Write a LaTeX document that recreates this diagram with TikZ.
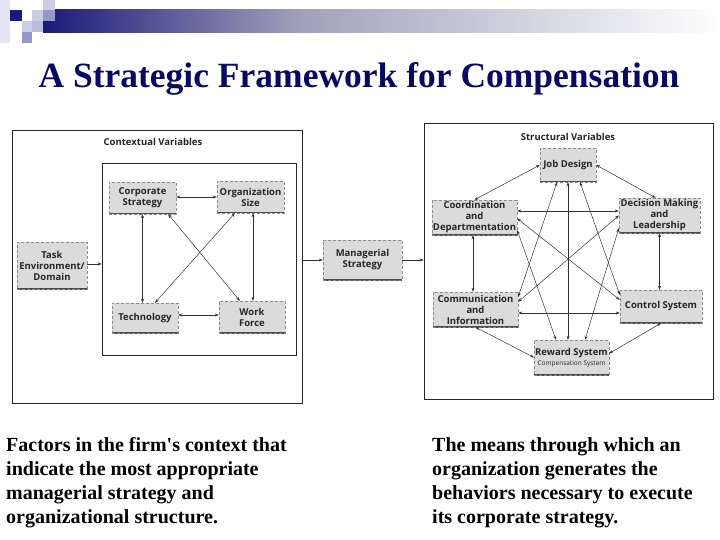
\documentclass[tikz,border=0pt]{standalone}
\usepackage{fontspec}
\setmainfont{Liberation Serif}
\newfontfamily\boxfont{Open Sans}
\usetikzlibrary{arrows.meta}
\definecolor{navy}{RGB}{26,26,122}
\definecolor{barmid}{RGB}{160,160,188}
\definecolor{titleblue}{RGB}{8,8,105}
\definecolor{sqpale}{RGB}{228,228,242}
\definecolor{sqlight}{RGB}{204,204,230}
\definecolor{sqmed}{RGB}{150,150,200}
\begin{document}
\begin{tikzpicture}[x=1pt,y=-1pt,
  box/.style={draw=black!45, densely dashed, fill=black!14, align=center, inner sep=1pt, text=black!85,
    font=\boxfont\bfseries\fontsize{9.5}{11}\selectfont,
    path picture={\draw[solid, line width=2.4pt,black!70] (path picture bounding box.south west) -- (path picture bounding box.south east);}},
  frame/.style={draw=black!85, line width=0.8pt},
  flabel/.style={font=\boxfont\bfseries\fontsize{9.5}{11}\selectfont, text=black!85},
  link/.style={{Stealth[length=4pt,width=3pt]}-{Stealth[length=4pt,width=3pt]}, line width=0.5pt, draw=black!80},
  feed/.style={-{Stealth[length=4pt,width=3pt]}, line width=0.5pt, draw=black!80},
  caption/.style={font=\bfseries\fontsize{20}{24}\selectfont, align=left, anchor=west, inner sep=0pt}
]
\useasboundingbox (0,0) rectangle (720,540);
\fill[white] (0,0) rectangle (720,540);

% header decoration
\fill[sqpale] (0,0) rectangle (10,43);
\shade[left color=navy, right color=barmid] (43,10) rectangle (300,33);
\shade[left color=barmid, right color=white] (300,10) rectangle (720,33);
\fill[navy] (10,10) rectangle (22,21);
\fill[sqlight] (32,10) rectangle (43,21);
\fill[sqlight] (43,0) rectangle (55,10);
\fill[sqmed] (43,10) rectangle (55,21);
\fill[sqlight] (22,21) rectangle (32,32);
\fill[sqlight!70!sqmed] (32,21) rectangle (43,32);
\fill[sqmed] (22,32) rectangle (32,43);

% title
\node[font=\bfseries\fontsize{35.5}{40}\selectfont, text=titleblue] (title) at (359,79) {A Strategic Framework for Compensation};

% left frames
\node[frame, minimum width=290pt, minimum height=273pt] (outerL) at (157,266.5) {};
\node[frame, minimum width=194pt, minimum height=192pt] (inner) at (199,259) {};
\node[flabel] (ctx) at (153,142) {Contextual Variables};

% left boxes
\node[box, minimum width=67pt, minimum height=32pt] (cs) at (142.5,198) {Corporate\\Strategy};
\node[box, minimum width=67pt, minimum height=32pt] (os) at (250.5,197) {Organization\\Size};
\node[box, minimum width=66pt, minimum height=30pt] (tech) at (145,318) {Technology};
\node[box, minimum width=66pt, minimum height=32pt] (wf) at (252,317) {Work\\Force};
\node[box, minimum width=70pt, minimum height=47pt] (task) at (52,265.5) {Task\\Environment/\\Domain};

\draw[link] (cs.east |- os.west) -- (os.west);
\draw[link] (cs.south) -- (cs.south |- tech.north);
\draw[link] ([xshift=2.5pt]os.south) -- ([xshift=2.5pt]os.south |- wf.north);
\draw[link] ([yshift=3pt]tech.east) -- ([yshift=3pt]tech.east -| wf.west);
\draw[link] ([xshift=-8pt]cs.south east) -- ([xshift=21pt]wf.north west);
\draw[link] ([xshift=18pt]os.south west) -- ([xshift=10pt]tech.north);
\draw[feed] ([yshift=1.5pt]task.east) -- ([yshift=1.5pt]task.east -| inner.west);

% managerial strategy
\node[box, minimum width=79pt, minimum height=40pt] (mgr) at (362.5,260) {Managerial\\Strategy};

% right frame
\node[frame, minimum width=289pt, minimum height=276pt] (outerR) at (568.5,261) {};
\node[flabel] (str) at (568,137) {Structural Variables};

\draw[feed] (mgr.west -| outerL.east) -- (mgr.west);
\draw[feed] (mgr.east) -- (mgr.east -| outerR.west);

% right boxes
\node[box, minimum width=56pt, minimum height=34pt] (job) at (568,165) {Job Design};
\node[box, minimum width=85pt, minimum height=35pt] (coord) at (474.5,217.5) {Coordination\\and\\Departmentation};
\node[box, minimum width=81pt, minimum height=35pt] (dec) at (659.5,215.5) {Decision Making\\and\\Leadership};
\node[box, minimum width=85pt, minimum height=35pt] (comm) at (475.5,309.5) {Communication\\and\\Information};
\node[box, minimum width=82pt, minimum height=33pt] (ctrl) at (661,306.5) {Control System};
\node[box, minimum width=73pt, minimum height=35pt] (rew) at (571.5,357.5) {Reward System\\[-1pt]{\mdseries\fontsize{6.5}{7.5}\selectfont Compensation System}};

\draw[link] (job.west) -- (coord.north);
\draw[link] (job.east) -- ([xshift=-4pt]dec.north);
\draw[link] ([yshift=6.5pt]coord.east) -- ([yshift=6.5pt]coord.east -| dec.west);
\draw[link] ([xshift=-1.5pt]coord.south) -- ([xshift=-1.5pt]coord.south |- comm.north);
\draw[link] (dec.south) -- (dec.south |- ctrl.north);
\draw[link] ([yshift=-3.5pt]comm.east) -- ([yshift=-3.5pt]comm.east -| ctrl.west);
\draw[link] (comm.south) -- (rew.west);
\draw[link] (ctrl.south) -- ([yshift=4pt]rew.east);
\draw[link] (job.south) -- (job.south |- rew.north);
\draw[link] ([xshift=-11pt]job.south) -- ([yshift=-5pt]comm.north east);
\draw[link] ([xshift=12pt]job.south) -- ([yshift=-5pt]ctrl.north west);
\draw[link] ([yshift=5pt]coord.south east) -- ([xshift=22pt]rew.north west);
\draw[link] ([yshift=5pt]dec.south west) -- ([xshift=-24pt]rew.north east);
\draw[link] ([yshift=-1pt]coord.east) -- ([yshift=-10pt]ctrl.north west);
\draw[link] (dec.west) -- ([yshift=-10pt]comm.north east);

% captions
\node[caption] (capL) at (6,483) {Factors in the firm\textquotesingle s context that\\indicate the most appropriate\\managerial strategy and\\organizational structure.};
\node[caption] (capR) at (432,483) {The means through which an\\organization generates the\\behaviors necessary to execute\\its corporate strategy.};
\end{tikzpicture}
\end{document}
